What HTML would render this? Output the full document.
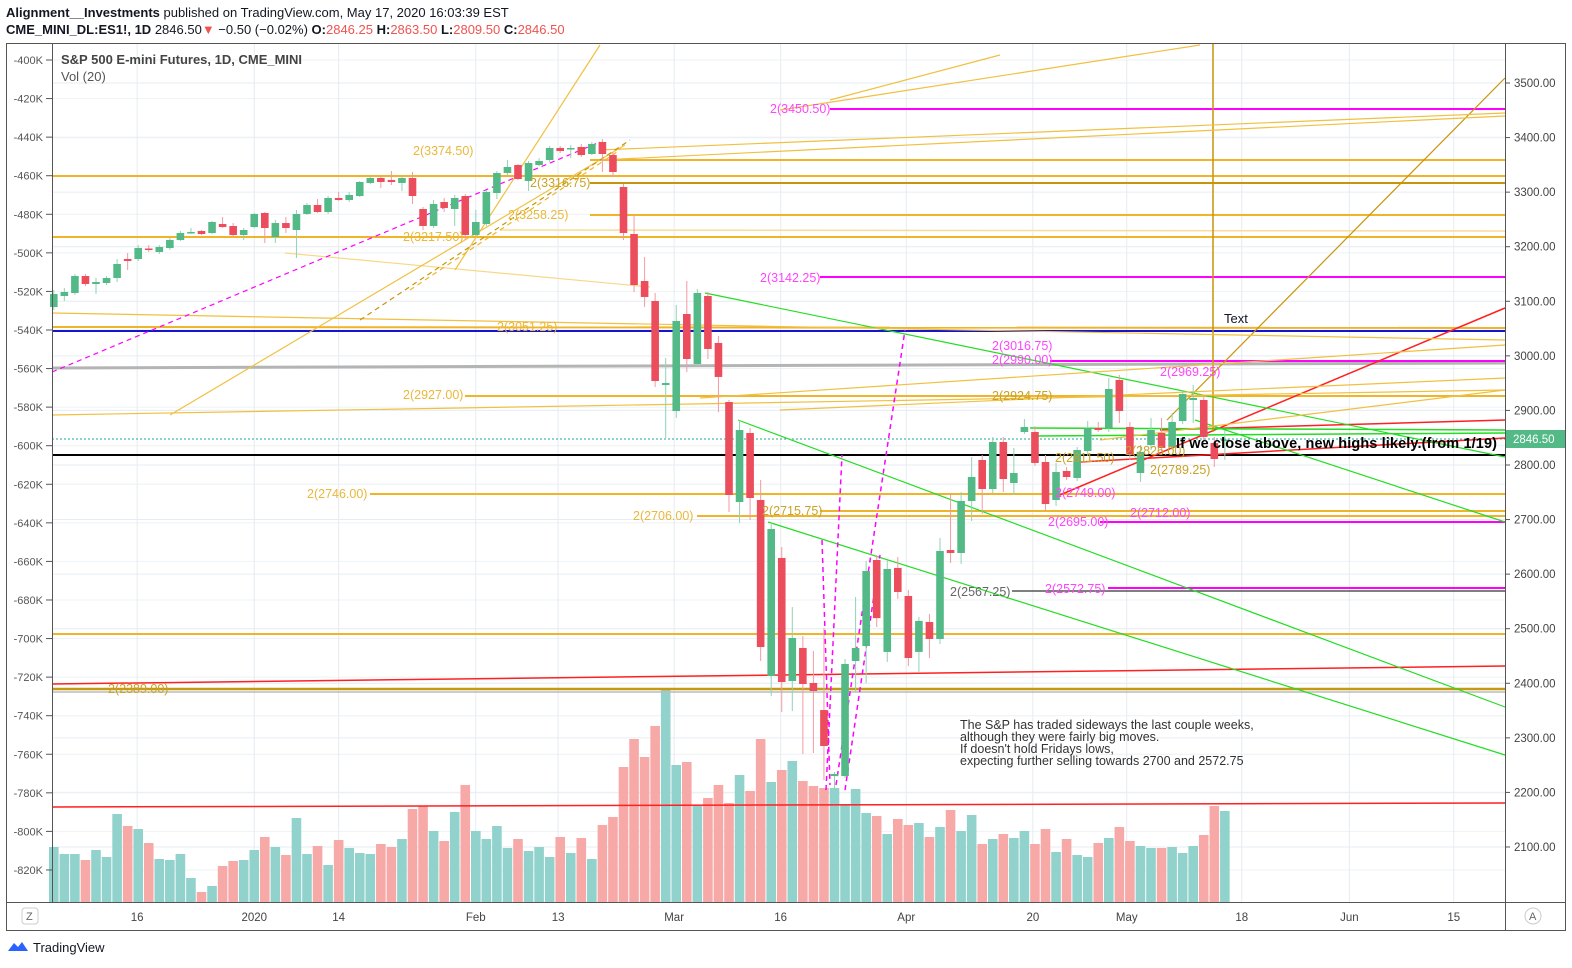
<!DOCTYPE html>
<html><head><meta charset="utf-8">
<style>
body{margin:0;background:#fff;width:1572px;height:968px;overflow:hidden;font-family:"Liberation Sans",sans-serif;}
svg{position:absolute;left:0;top:0;}
</style></head>
<body>
<svg id="chart" width="1572" height="968" viewBox="0 0 1572 968" xmlns="http://www.w3.org/2000/svg">
  <rect x="0" y="0" width="1572" height="968" fill="#fff"/>
  <text x="6" y="17" font-size="13" fill="#131722"><tspan font-weight="bold">Alignment__Investments</tspan> published on TradingView.com, May 17, 2020 16:03:39 EST</text>
  <text x="6" y="34" font-size="13" fill="#131722"><tspan font-weight="bold">CME_MINI_DL:ES1!, 1D</tspan> 2846.50<tspan fill="#ef5350">▼</tspan> −0.50 (−0.02%) <tspan font-weight="bold">O:</tspan><tspan fill="#ef5350">2846.25</tspan> <tspan font-weight="bold">H:</tspan><tspan fill="#ef5350">2863.50</tspan> <tspan font-weight="bold">L:</tspan><tspan fill="#ef5350">2809.50</tspan> <tspan font-weight="bold">C:</tspan><tspan fill="#ef5350">2846.50</tspan></text>
  <rect x="6.5" y="43.5" width="1559" height="887" fill="none" stroke="#555"/>
  <g id="grid"></g>
  <g id="vol"></g>
  <g id="draw" fill="none">
    <line x1="52" y1="176" x2="1505" y2="176" stroke="#f0b429" stroke-width="2"/>
    <line x1="52" y1="237" x2="1505" y2="237" stroke="#f0b429" stroke-width="2"/>
    <line x1="590" y1="160" x2="1505" y2="160" stroke="#f0b429" stroke-width="2"/>
    <line x1="590" y1="183" x2="1505" y2="183" stroke="#c8940a" stroke-width="2"/>
    <line x1="590" y1="215" x2="1505" y2="215" stroke="#f0b429" stroke-width="2"/>
    <line x1="500" y1="230" x2="1505" y2="231" stroke="#f8dc98" stroke-width="1.5"/>
    <line x1="830" y1="109" x2="1505" y2="109" stroke="#ff00ff" stroke-width="2"/>
    <line x1="820" y1="277" x2="1505" y2="277" stroke="#ff00ff" stroke-width="2"/>
    <line x1="52" y1="327" x2="1505" y2="328" stroke="#f0b429" stroke-width="2"/>
    <line x1="52" y1="331" x2="1505" y2="331" stroke="#1515d0" stroke-width="2"/>
    <line x1="52" y1="368" x2="1505" y2="363" stroke="#b4b4b4" stroke-width="3"/>
    <line x1="1050" y1="361" x2="1505" y2="361" stroke="#ff00ff" stroke-width="2"/>
    <line x1="465" y1="396" x2="1505" y2="396" stroke="#f0b429" stroke-width="2"/>
    <line x1="52" y1="439" x2="1505" y2="439" stroke="#26a69a" stroke-width="1" stroke-dasharray="2,2"/>
    <line x1="52" y1="455" x2="1505" y2="455" stroke="#000" stroke-width="2"/>
    <line x1="370" y1="494" x2="1505" y2="494" stroke="#f0b429" stroke-width="2"/>
    <line x1="820" y1="511" x2="1505" y2="511" stroke="#f0b429" stroke-width="2"/>
    <line x1="697" y1="516" x2="1505" y2="516" stroke="#f0b429" stroke-width="2"/>
    <line x1="1100" y1="522" x2="1505" y2="522" stroke="#ff00ff" stroke-width="2"/>
    <line x1="1108" y1="588" x2="1505" y2="588" stroke="#ff00ff" stroke-width="2"/>
    <line x1="1012" y1="591" x2="1505" y2="591" stroke="#555" stroke-width="1.5"/>
    <line x1="52" y1="634" x2="1505" y2="634" stroke="#f0b429" stroke-width="2"/>
    <line x1="52" y1="689" x2="1505" y2="689" stroke="#c39a12" stroke-width="2.5"/>
    <line x1="52" y1="692" x2="1505" y2="692" stroke="#bbb" stroke-width="1.5"/>
    <line x1="52" y1="684" x2="1505" y2="666" stroke="#ff2020" stroke-width="1.5"/>
    <line x1="52" y1="807" x2="1505" y2="803" stroke="#ff2020" stroke-width="1.5"/>
    <line x1="1055" y1="497" x2="1505" y2="308" stroke="#ff2020" stroke-width="1.5"/>
    <line x1="1080" y1="462" x2="1505" y2="438" stroke="#ff2020" stroke-width="1.5"/>
    <line x1="1160" y1="430" x2="1505" y2="420" stroke="#ff2020" stroke-width="1.5"/>
    <line x1="1030" y1="428" x2="1505" y2="430" stroke="#22dd22" stroke-width="1.5"/>
    <line x1="1035" y1="436" x2="1505" y2="433" stroke="#22dd22" stroke-width="1.5"/>
    <line x1="705" y1="293" x2="1505" y2="457" stroke="#22dd22" stroke-width="1.2"/>
    <line x1="738" y1="420" x2="1505" y2="707" stroke="#22dd22" stroke-width="1.2"/>
    <line x1="768" y1="522" x2="1505" y2="755" stroke="#22dd22" stroke-width="1.2"/>
    <line x1="1195" y1="420" x2="1505" y2="522" stroke="#22dd22" stroke-width="1.2"/>
    <line x1="1213" y1="44" x2="1213" y2="432" stroke="#c8940a" stroke-width="1.5"/>
    <line x1="1167" y1="420" x2="1505" y2="78" stroke="#c8940a" stroke-width="1.2"/>
    <line x1="52" y1="415" x2="1505" y2="390" stroke="#f0c040" stroke-width="1.2"/>
    <line x1="52" y1="313" x2="1505" y2="340" stroke="#f0c040" stroke-width="1.2"/>
    <line x1="285" y1="253" x2="650" y2="287" stroke="#f8d888" stroke-width="1.2"/>
    <line x1="170" y1="415" x2="625" y2="145" stroke="#f0c040" stroke-width="1.2"/>
    <line x1="455" y1="270" x2="600" y2="45" stroke="#f0c040" stroke-width="1.2"/>
    <line x1="600" y1="150" x2="1505" y2="113" stroke="#f0c040" stroke-width="1.2"/>
    <line x1="600" y1="160" x2="1505" y2="116" stroke="#f0c040" stroke-width="1.2"/>
    <line x1="780" y1="110" x2="1200" y2="45" stroke="#f0c040" stroke-width="1.2"/>
    <line x1="830" y1="100" x2="1000" y2="55" stroke="#f0c040" stroke-width="1.2"/>
    <line x1="700" y1="398" x2="1505" y2="345" stroke="#f0c040" stroke-width="1.2"/>
    <line x1="780" y1="410" x2="1505" y2="378" stroke="#f0c040" stroke-width="1.2"/>
    <line x1="1100" y1="440" x2="1505" y2="390" stroke="#f0c040" stroke-width="1.2"/>
    <line x1="52" y1="372" x2="600" y2="142" stroke="#ff00ff" stroke-width="1.2" stroke-dasharray="5,4"/>
    <line x1="360" y1="320" x2="630" y2="140" stroke="#c8940a" stroke-width="1.2" stroke-dasharray="5,4"/>
    <line x1="410" y1="290" x2="620" y2="150" stroke="#f0b429" stroke-width="1.2" stroke-dasharray="5,4"/>
    <line x1="836" y1="785" x2="905" y2="330" stroke="#ff00ff" stroke-width="1.5" stroke-dasharray="5,4"/>
    <line x1="826" y1="790" x2="842" y2="455" stroke="#ff00ff" stroke-width="1.5" stroke-dasharray="5,4"/>
    <line x1="845" y1="790" x2="880" y2="555" stroke="#ff00ff" stroke-width="1.5" stroke-dasharray="5,4"/>
    <line x1="822" y1="540" x2="830" y2="785" stroke="#ff00ff" stroke-width="1.5" stroke-dasharray="5,4"/>
  </g>
  <g id="candles"></g>
  <g font-size="12.5" font-family="Liberation Sans, sans-serif">
    <text x="770" y="113" fill="#ff44ff">2(3450.50)</text>
    <text x="413" y="155" fill="#eab83a">2(3374.50)</text>
    <text x="530" y="187" fill="#c9a227">2(3316.75)</text>
    <text x="508" y="219" fill="#eab83a">2(3258.25)</text>
    <text x="403" y="241" fill="#eab83a">2(3217.50)</text>
    <text x="760" y="282" fill="#ff44ff">2(3142.25)</text>
    <text x="497" y="331" fill="#eab83a">2(3051.25)</text>
    <text x="992" y="350" fill="#ff44ff">2(3016.75)</text>
    <text x="992" y="364" fill="#ff44ff">2(2990.00)</text>
    <text x="1160" y="376" fill="#ff44ff">2(2969.25)</text>
    <text x="403" y="399" fill="#eab83a">2(2927.00)</text>
    <text x="992" y="400" fill="#c9a227">2(2924.75)</text>
    <text x="1125" y="455" fill="#c9a227">2(2826.00)</text>
    <text x="1055" y="462" fill="#c9a227">2(2811.50)</text>
    <text x="1150" y="474" fill="#c9a227">2(2789.25)</text>
    <text x="1055" y="497" fill="#ff44ff">2(2749.00)</text>
    <text x="307" y="498" fill="#eab83a">2(2746.00)</text>
    <text x="762" y="515" fill="#c9a227">2(2715.75)</text>
    <text x="633" y="520" fill="#eab83a">2(2706.00)</text>
    <text x="1130" y="517" fill="#ff44ff">2(2712.00)</text>
    <text x="1048" y="526" fill="#ff44ff">2(2695.00)</text>
    <text x="950" y="596" fill="#666">2(2567.25)</text>
    <text x="1045" y="593" fill="#ff44ff">2(2572.75)</text>
    <text x="108" y="693" fill="#c9a227">2(2389.00)</text>
  </g>
  <text x="1224" y="323" font-size="13" fill="#131722">Text</text>
  <text x="1176" y="448" font-size="14.5" font-weight="bold" fill="#000" textLength="321">If we close above, new highs likely.(from 1/19)</text>
  <g font-size="12.5" fill="#333">
    <text x="960" y="729">The S&amp;P has traded sideways the last couple weeks,</text>
    <text x="960" y="741">although they were fairly big moves.</text>
    <text x="960" y="753">If doesn't hold Fridays lows,</text>
    <text x="960" y="765">expecting further selling towards 2700 and 2572.75</text>
  </g>
  <text x="61" y="64" font-size="13" font-weight="bold" fill="#444">S&amp;P 500 E-mini Futures, 1D, CME_MINI</text>
  <text x="61" y="81" font-size="13" fill="#555">Vol (20)</text>
  <line x1="52.5" y1="44" x2="52.5" y2="902" stroke="#555"/>
  <line x1="1505.5" y1="44" x2="1505.5" y2="930" stroke="#555"/>
  <line x1="7" y1="902.5" x2="1565" y2="902.5" stroke="#555"/>
  <g id="paxis" font-size="11.5" fill="#444"></g>
  <g id="vaxis" font-size="11" fill="#555"></g>
  <g id="taxis" font-size="11.5" fill="#444"></g>
  <rect x="1506" y="430" width="59" height="18" fill="#53b987"/>
  <text x="1513" y="443" font-size="11.5" fill="#fff">2846.50</text>
  <rect x="22" y="908" width="16" height="16" rx="3" fill="#fff" stroke="#ccc"/>
  <text x="26" y="920" font-size="11" fill="#666">Z</text>
  <rect x="1525" y="908" width="16" height="16" rx="8" fill="#fff" stroke="#ccc"/>
  <text x="1529" y="920" font-size="11" fill="#666">A</text>
  <path d="M8 951 l6 -8 l4 4 l4 -5 l6 9 z" fill="#2962ff"/>
  <text x="33" y="952" font-size="13" fill="#131722">TradingView</text>
</svg>
<script>
const openP=[3089.5,3109.7,3115.2,3146.3,3131.7,3133.5,3142.7,3177.5,3177.5,3196.7,3190.3,3197.6,3212.3,3226,3228.8,3225.1,3241.6,3237.9,3221.5,3236.1,3261.8,3217.8,3243.4,3230.6,3260,3276.4,3263.6,3289.3,3285.6,3292.9,3316.8,3325.9,3322.3,3316.8,3325.9,3269.1,3238,3281.9,3269.1,3292.9,3221.5,3241.6,3298.4,3335.1,3349.7,3320.4,3349.7,3358.9,3380.9,3380,3382.7,3369.9,3391.9,3368,3309.4,3223.3,3137.2,3100.5,2946.6,2898.9,3076.7,2985,3109.7,3023.6,2915.4,2732.2,2858.6,2735.8,2413.3,2629.6,2404.2,2464.7,2400.5,2351,2230,2230,2440.8,2468.3,2625.9,2457.4,2611.3,2560,2457.4,2512.3,2481.2,2644.2,2638.7,2734,2809.1,2756,2842.1,2767,2860.5,2860.5,2805.5,2735.8,2789,2776.2,2825.7,2867.8,2867.8,2955.8,2869.6,2785.3,2836.6,2858.6,2833,2880.6,2919.1,2919.1,2840.3,2846.25];
const highP=[3120.7,3124.3,3150,3150,3142.7,3146.3,3177.5,3188.5,3203.1,3203,3203,3216,3228.8,3234.3,3230.6,3247.1,3254.4,3243.4,3234.3,3261.8,3263.6,3249,3254.4,3267.3,3280.1,3287.4,3293,3300.3,3300.3,3320.4,3327.8,3329.6,3338.8,3327.8,3336.9,3272.8,3285.6,3289.3,3294.8,3296.6,3267.3,3303.9,3338.8,3358.9,3351.6,3357.1,3362.6,3384.6,3384.6,3386.4,3388.2,3391.9,3397.4,3373.6,3314.9,3258.1,3181.1,3115.2,2996.1,3093.2,3137.2,3122.5,3117,3036.4,2919,2882.4,2867.8,2772.5,2693.7,2649.8,2539.8,2486.6,2459.2,2501.3,2237.4,2444.5,2558.1,2624.1,2635.1,2625.9,2631.4,2571,2521.5,2526.9,2666.3,2748.7,2750.5,2814.6,2818.3,2851.3,2851.3,2831.3,2884.3,2871.5,2818.3,2803.7,2796.3,2833,2880.6,2878.8,2959.4,2964.9,2878.8,2836.6,2886.1,2886.1,2895.3,2937.4,2946.6,2926.4,2851.3,2863.5];
const lowP=[3084,3100.5,3111.5,3128,3113.3,3129.8,3135.3,3157.3,3173.8,3190.3,3186.6,3194,3210.5,3223.3,3221.5,3223.3,3234.3,3219.6,3212.3,3234.3,3206.8,3206.8,3225.1,3179.3,3258.1,3261.8,3260,3283.8,3281.9,3291.1,3314.9,3307.6,3313.1,3302.1,3278.3,3230.6,3234.3,3263.6,3238,3212.3,3219.6,3238,3287.4,3331.4,3322.3,3302.1,3347.9,3355.2,3371.7,3362.6,3364.4,3368,3336.9,3327.8,3212.3,3117,3089.5,2942.9,2849.5,2886.1,2970.4,2981.4,2994.2,2897.1,2713.9,2693.7,2699.2,2440.8,2376.7,2347.3,2349.2,2270.4,2272.2,2222.8,2204.4,2226.4,2384,2400.5,2503.1,2439,2554.5,2431.7,2420.7,2446.3,2472,2620.4,2618.6,2697.4,2710.2,2748.7,2750.5,2745,2856.8,2798.1,2715.7,2724.9,2772.5,2770.7,2816.5,2860.5,2860.5,2876.9,2809.1,2768.9,2827.5,2823.8,2827.5,2875.1,2876.9,2843.9,2796.3,2809.5];
const closeP=[3113.3,3117,3146.3,3131.7,3135.3,3142.7,3168.3,3173.8,3197.6,3194,3199.5,3212.3,3225.1,3227,3223.3,3245.3,3236.1,3221.5,3230.6,3260,3234.3,3243.4,3234.3,3260,3276.4,3263.6,3289.3,3285.6,3294.8,3318.6,3325.9,3318.6,3318.6,3325.9,3292.9,3238,3278.3,3271,3289.3,3221.5,3245.3,3300.3,3335.1,3346.1,3324.1,3353.4,3357.1,3380.9,3375.4,3380.9,3368,3388.2,3369.9,3336.9,3225.1,3129.8,3107.9,2953.9,2950.2,3063.9,2994.2,3115.2,3012.6,2961.3,2745,2864.1,2739.5,2466.4,2682.7,2402.3,2483,2398.7,2385.8,2285,2233.7,2435.3,2464.7,2605.7,2519.4,2609.4,2567.3,2446.3,2514.3,2481.2,2642.4,2638.7,2734,2778,2756,2842.1,2774.3,2785.3,2869.6,2803.7,2728.5,2787.1,2778,2827.5,2867.8,2864.1,2939.3,2898.9,2818.3,2824,2864.1,2831.2,2878.8,2930.1,2922.8,2851.3,2811,2846.5];
const volumeK=[55,48,48,42,52,45,88,76,73,59,43,42,48,24,10,16,36,41,42,52,65,55,47,84,48,56,37,62,54,49,48,58,55,63,93,96,71,61,90,117,71,63,76,54,63,51,55,45,65,49,64,43,77,85,135,163,145,176,213,137,140,96,104,117,99,127,111,163,120,132,141,121,116,114,114,98,113,89,86,68,83,77,79,65,75,92,71,87,58,63,68,64,71,58,73,50,63,47,45,59,64,75,61,56,54,54,55,49,56,67,96,91];
const priceTicks=[3500,3400,3300,3200,3100,3000,2900,2800,2700,2600,2500,2400,2300,2200,2100];
const volTicks=[-400,-420,-440,-460,-480,-500,-520,-540,-560,-580,-600,-620,-640,-660,-680,-700,-720,-740,-760,-780,-800,-820];
const timeLabels=["16","2020","14","Feb","13","Mar","16","Apr","20","May","18","Jun","15"];
const timeIdx=[7.9,19,27,40,47.8,58.8,68.9,80.8,92.8,101.7,112.6,122.8,132.7];

const NS="http://www.w3.org/2000/svg";
function xAt(i){return 53.8+10.55*i;}
function yP(p){return 83+(3500-p)*0.5457;}
function yV(v){return 60+(-400-v)/20*38.57;}
function hVol(v){return v;}
function mk(tag,attrs,parent){const e=document.createElementNS(NS,tag);for(const k in attrs)e.setAttribute(k,attrs[k]);parent.appendChild(e);return e;}

const grid=document.getElementById('grid');
priceTicks.forEach(p=>{const l=mk('line',{x1:52,x2:1505,y1:yP(p),y2:yP(p),stroke:'#e6ecf2'},grid);

});
volTicks.forEach(v=>{const l=mk('line',{x1:52,x2:1505,y1:yV(v),y2:yV(v),stroke:'#eef2f6'},grid);

});
timeIdx.forEach(t=>{const l=mk('line',{x1:xAt(t),x2:xAt(t),y1:44,y2:902,stroke:'#e6ecf2'},grid);

});

const vg=document.getElementById('vol');
volumeK.forEach((v,i)=>{const up=closeP[i]>=openP[i];const h=hVol(v);
const r=mk('rect',{x:xAt(i)-4.8,y:902-h,width:9.6,height:h,fill:up?'#92d2cc':'#f7a9a7'},vg);

});

const cg=document.getElementById('candles');
openP.forEach((o,i)=>{const c=closeP[i];const up=c>=o;const col=up?'#53b987':'#eb4d5c';const x=xAt(i);
const w=mk('line',{x1:x,x2:x,y1:yP(highP[i]),y2:yP(lowP[i]),stroke:up?'#8fd3b4':'#f39aa2','stroke-width':1},cg);


const top=yP(Math.max(o,c));const bh=Math.max(1.5,yP(Math.min(o,c))-top);
const b=mk('rect',{x:x-3.8,y:top,width:7.6,height:bh,fill:col},cg);

});

const pa=document.getElementById('paxis');
priceTicks.forEach(p=>{mk('line',{x1:1505,x2:1510,y1:yP(p),y2:yP(p),stroke:'#555'},pa);
const t=mk('text',{x:1514,y:yP(p)+4},pa);t.textContent=p.toFixed(2);

});
const va=document.getElementById('vaxis');
volTicks.forEach(v=>{mk('line',{x1:46,x2:52,y1:yV(v),y2:yV(v),stroke:'#555'},va);
const t=mk('text',{x:43,y:yV(v)+4,'text-anchor':'end'},va);t.textContent=v+'K';

});
const ta=document.getElementById('taxis');
timeLabels.forEach((s,k)=>{const t=mk('text',{x:xAt(timeIdx[k]),y:921,'text-anchor':'middle'},ta);t.textContent=s;

});
</script>
</body></html>
